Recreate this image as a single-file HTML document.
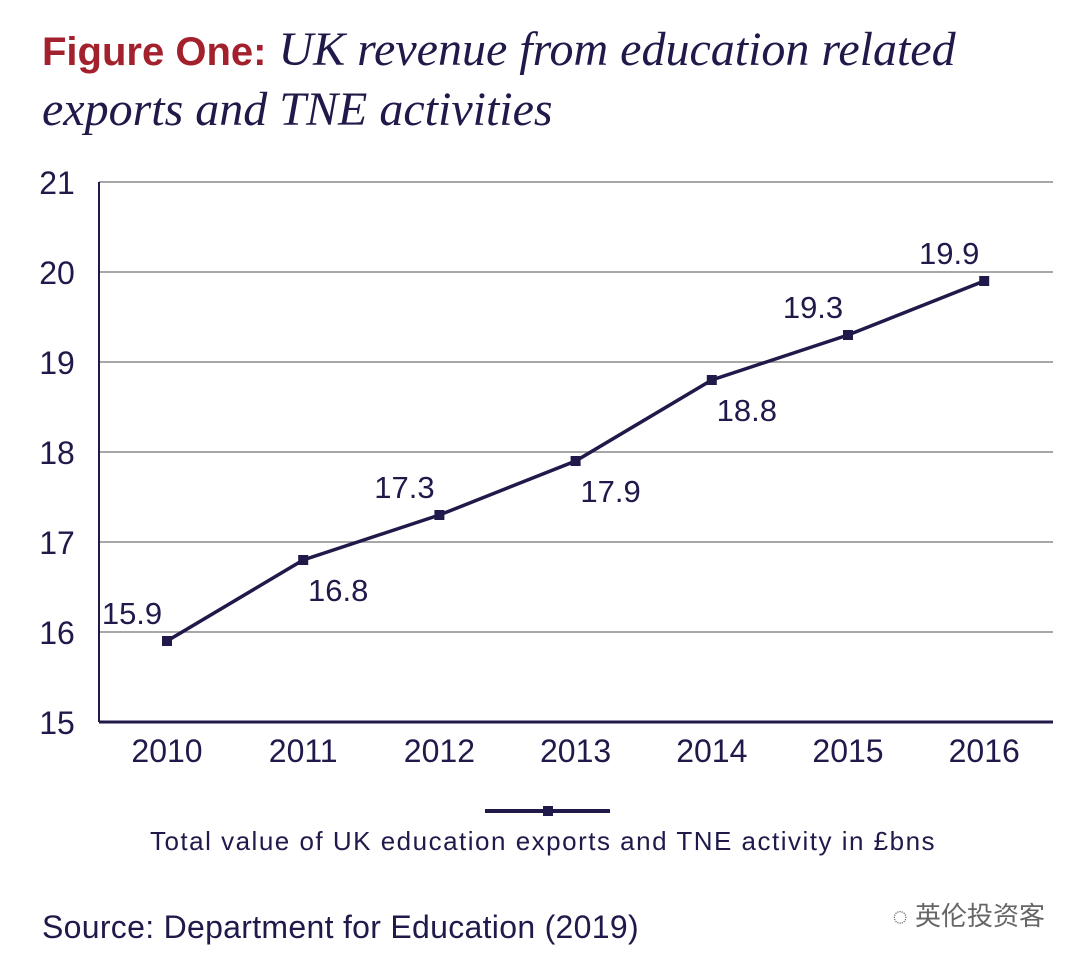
<!DOCTYPE html>
<html><head><meta charset="utf-8"><style>
body{margin:0;background:#fff;width:1080px;height:966px;overflow:hidden}
svg text{font-family:"Liberation Sans","Noto Sans CJK SC",sans-serif}
</style></head><body>
<svg id="chart" width="1080" height="966" viewBox="0 0 1080 966" xmlns="http://www.w3.org/2000/svg">
<text x="42" y="65" font-size="40" fill="#1f1a4a"><tspan font-weight="bold" fill="#a3212c">Figure One:</tspan><tspan style="font-family:'Liberation Serif',serif" font-style="italic" font-size="48"> UK revenue from education related</tspan></text>
<text x="42" y="125" font-size="48" fill="#1f1a4a" font-style="italic" style="font-family:'Liberation Serif',serif">exports and TNE activities</text>
<g id="grid"></g><g id="series"></g>
<line x1="485" y1="811" x2="610" y2="811" stroke="#1f1a4a" stroke-width="4"/>
<rect x="543" y="806" width="10" height="10" fill="#1f1a4a"/>
<text x="543" y="850" font-size="26" letter-spacing="1.5" fill="#1f1a4a" text-anchor="middle">Total value of UK education exports and TNE activity in £bns</text>
<text x="42" y="938" font-size="32" letter-spacing="0.3" fill="#1f1a4a">Source: Department for Education (2019)</text>
<text x="1045" y="925" font-size="26" fill="#666" text-anchor="end">◌ 英伦投资客</text>
</svg>
<script>
const categories=["2010","2011","2012","2013","2014","2015","2016"];
const values=[15.9,16.8,17.3,17.9,18.8,19.3,19.9];
const yTicks=[15,16,17,18,19,20,21];
const labelPos=["above","below","above","below","below","above","above"];
const NS="http://www.w3.org/2000/svg";
const x0=167,xStep=136.2,yBase=722,yUnit=90,yMin=15;
const X=i=>x0+i*xStep, Y=v=>yBase-(v-yMin)*yUnit;
function mk(t,a,p){const e=document.createElementNS(NS,t);for(const k in a)e.setAttribute(k,a[k]);p.appendChild(e);return e;}
const g=document.getElementById('grid'),s=document.getElementById('series');
yTicks.forEach(t=>{
 if(t>yMin){const l=mk('line',{x1:99,x2:1053,y1:Y(t),y2:Y(t),stroke:'#8a8a8a','stroke-width':1.5},g);
 
 }
 const tx=mk('text',{x:57,y:Y(t)+12,'font-size':32,fill:'#1f1a4a','text-anchor':'middle'},g);tx.textContent=t;
 
 
});
const ya=mk('line',{x1:99,x2:99,y1:Y(21),y2:yBase,stroke:'#1f1a4a','stroke-width':2},g);


const xa=mk('line',{x1:99,x2:1053,y1:yBase,y2:yBase,stroke:'#1f1a4a','stroke-width':3},g);


categories.forEach((c,i)=>{const t=mk('text',{x:X(i),y:762,'font-size':32,fill:'#1f1a4a','text-anchor':'middle'},g);t.textContent=c;
 
 });
const pl=mk('polyline',{points:values.map((v,i)=>X(i)+','+Y(v)).join(' '),fill:'none',stroke:'#1f1a4a','stroke-width':3.5},s);


values.forEach((v,i)=>{
 const r=mk('rect',{x:X(i)-5,y:Y(v)-5,width:10,height:10,fill:'#1f1a4a'},s);
 
 
 const above=labelPos[i]==='above';
 const t=mk('text',{x:above?X(i)-35:X(i)+35,y:above?Y(v)-17:Y(v)+41,'font-size':31,fill:'#1f1a4a','text-anchor':'middle'},s);
 t.textContent=v.toFixed(1);
 
 
});
</script>
</body></html>
